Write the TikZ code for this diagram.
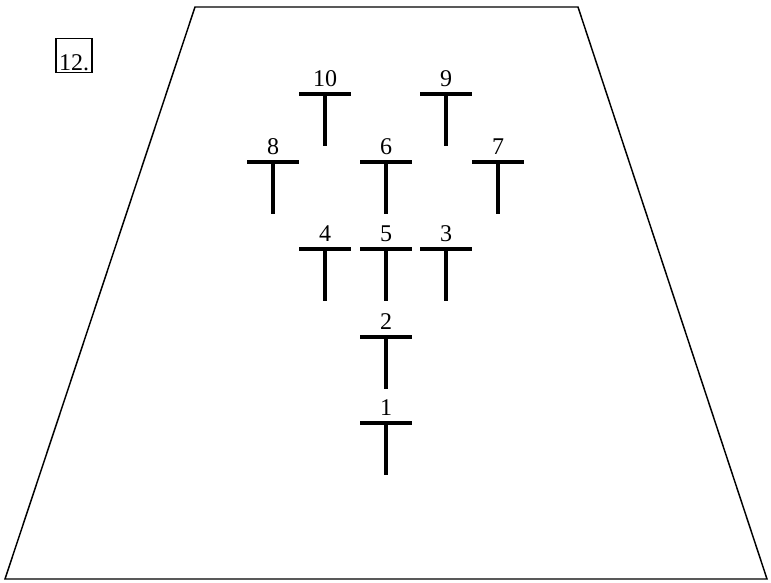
\documentclass[tikz,border=0pt]{standalone}
\usepackage{fontspec}
\setmainfont{Liberation Serif}
\tikzset{
    pinbar/.style={line width=2.6pt},
    pinlabel/.style={above, inner sep=0pt, font=\fontsize{18}{20}\selectfont}
}
\begin{document}
\begin{tikzpicture}[x=0.75pt,y=-0.75pt]
    \useasboundingbox (0,0) rectangle (771,582);
    % the field
    \draw[line width=1.1pt] (195,7) -- (578,7) -- (767,579) -- (5,579) -- cycle;

    \node[draw, line width=0.8pt, minimum width=27pt, inner xsep=2pt, inner ysep=2pt,
          text height=22pt, text depth=0pt, font=\fontsize{18}{20}\selectfont] (num) at (74,55.5) {12.};

    % the markers
    \foreach \x/\y/\lbl in {325/94/10, 446/94/9, 273/162/8, 386/162/6, 498/162/7,
                            325/249/4, 386/249/5, 446/249/3, 386/337/2, 386/423/1}{
        \draw[pinbar] (\x-26,\y) -- (\x+26,\y);
        \draw[pinbar] (\x,\y) -- (\x,\y+52);
        \node[pinlabel] (pin\lbl) at (\x,\y-7) {\lbl};
    }
\end{tikzpicture}
\end{document}
